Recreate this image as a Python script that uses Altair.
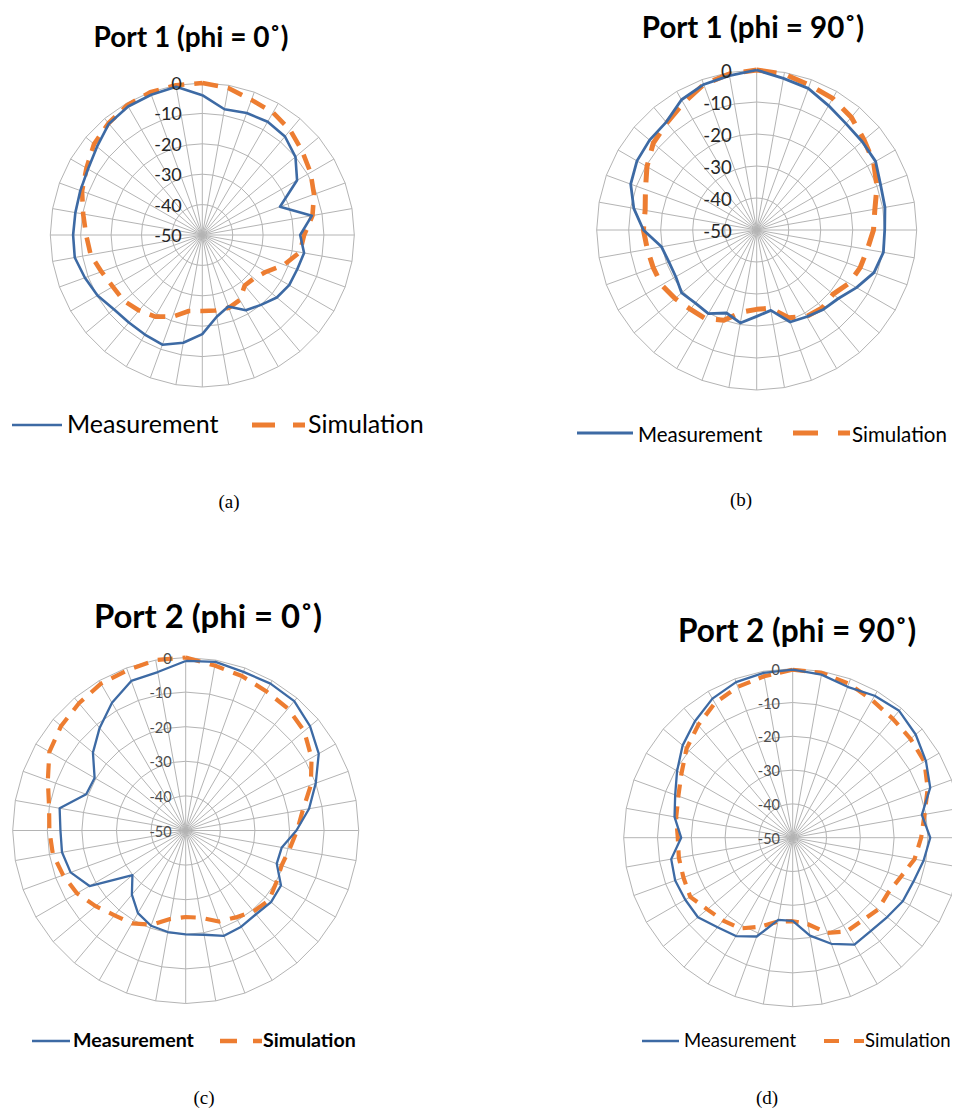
import altair as alt
import pandas as pd

# ---------------- data ----------------
ANGLES = list(range(0, 360, 10))          # degrees, clockwise from top
SERIES = ["Measurement", "Simulation"]
TICK_VALUES = [0, -10, -20, -30, -40, -50]
TICK_LABELS = ["0", "-10", "-20", "-30", "-40", "-50"]
RING_LEVELS = [0, -10, -20, -30, -40]
TITLES = ["Port 1 (phi = 0˚)", "Port 1 (phi = 90˚)", "Port 2 (phi = 0˚)", "Port 2 (phi = 90˚)"]
CAPTIONS = ["(a)", "(b)", "(c)", "(d)"]

meas_a = [-4, -8, -7.3, -7, -7.7, -10, -14, -22.8, -13.4, -17.8, -16, -16.8,
          -17, -18, -20, -21.4, -25, -22.7, -17.4, -14, -11.6, -12.2, -12.4, -12,
          -10.2, -8.9, -7.4, -7.5, -7.6, -7.3, -6.6, -4.8, -2.2, -1.2, -0.9, -0.5]
sim_a = [0, -0.9, -2.7, -3.5, -5, -7.1, -8.9, -10.9, -13.2, -16.5, -17.4, -21.4,
         -25.8, -27.8, -28.3, -25.3, -24.5, -24.8, -25, -24.6, -21.4, -19, -17.6, -16.3,
         -16, -14.7, -12.7, -11.8, -10.2, -7.9, -6, -3.5, -2, -0.7, 0, 0]

meas_b = [0, -1.9, -2.9, -5.1, -6.6, -7, -7.1, -8.8, -9.3, -10, -9.8, -11,
          -14, -16.7, -17.6, -18.7, -19.4, -24.5, -23, -20.5, -22.4, -19.8, -20.2, -19.4,
          -20.8, -20.8, -19.8, -14.6, -11, -8.1, -6.8, -6.3, -6, -3, -1.6, -1]
sim_b = [0, -0.5, -1.8, -2.5, -4, -6.2, -7.8, -10, -12.5, -13.5, -14.9, -15.6,
         -16.7, -18.8, -18.2, -18.8, -20.8, -25.2, -25.2, -24, -20, -18, -17.7, -16.7,
         -15.7, -15.6, -15.3, -14.6, -14.6, -13, -10.4, -7.8, -6.3, -4.2, -1.6, -0.5]

meas_c = [-1, -0.5, -1.2, -1, -1.2, -3.1, -5.6, -10, -13.8, -18, -21.8, -22,
          -18.2, -17.8, -18.4, -17.9, -17.6, -19.4, -20, -20.2, -20.7, -22.4, -25.8, -29.9,
          -17.9, -14.6, -13.7, -13.8, -13, -19.4, -19.6, -15, -11.3, -7.4, -4, -3.5]
sim_c = [0, -1.6, -2.5, -3.5, -4, -5.3, -8, -11.5, -15.6, -17.8, -19.5, -20.5,
         -19.8, -18.6, -19.5, -21, -22, -24.4, -25, -24, -21, -19, -18, -16,
         -13.7, -12.3, -11, -10.6, -9.9, -7.6, -4.5, -3, -2, -1, -0.7, 0]

meas_d = [-0.3, -1, -2.5, -1.5, -1, -2.5, -4.5, -6.7, -11.2, -9.3, -10.7, -12,
          -12.4, -13.5, -14, -13.5, -16.6, -20.6, -25.4, -25.3, -18.9, -16.4, -15.4, -13.4,
          -13.3, -13, -13.5, -17, -14.5, -13, -10.5, -7.5, -5, -2.5, -1, -0.5]
sim_d = [-0.3, -0.5, -1.5, -3, -4, -4.5, -5, -7.5, -10.4, -12, -13.4, -16,
         -17.4, -17, -18, -18, -20, -24, -25.3, -24.8, -22, -19, -18, -17,
         -15, -15.6, -15.8, -16, -15, -14, -12, -9, -6.5, -4, -2.5, -1.5]

PANEL_DATA = {"a": (meas_a, sim_a), "b": (meas_b, sim_b),
              "c": (meas_c, sim_c), "d": (meas_d, sim_d)}

# ---------------- layout / style (page pixels) ----------------
BLUE = "#3D6AA4"
ORANGE = "#ED7D31"
GRID = "#B4B4B4"
FONT = "Lato"

LAYOUT = {
    "a": dict(cx=202.3, cy=235, R=152, tick_dx=20.5, tick_fs=18, tick_col="#262626",
              m_w=2.6, s_w=4.6, s_dash=[16, 10],
              title_x=191, title_y=47, title_fs=28,
              leg_y=425, leg_base=433, leg_m=(12, 62), leg_m_text=67,
              leg_s=(252, 305), leg_s_dash=[23, 18], leg_s_text=308,
              leg_fs=25, leg_bold=False, leg_mw=2.7, leg_sw=4.8,
              cap_x=229, cap_y=508),
    "b": dict(cx=756.7, cy=230, R=160, tick_dx=25, tick_fs=18.5, tick_col="#262626",
              m_w=2.8, s_w=5, s_dash=[20, 12],
              title_x=753, title_y=38, title_fs=29.5,
              leg_y=433, leg_base=441.5, leg_m=(577, 633), leg_m_text=638,
              leg_s=(793, 850), leg_s_dash=[25, 20], leg_s_text=852,
              leg_fs=20.5, leg_bold=False, leg_mw=2.8, leg_sw=5,
              cap_x=741, cap_y=506),
    "c": dict(cx=185.7, cy=830.5, R=173, tick_dx=14, tick_fs=14.5, tick_col="#4D4D4D",
              m_w=2.3, s_w=4.2, s_dash=[15, 10],
              title_x=208, title_y=628, title_fs=32.8,
              leg_y=1041, leg_base=1046.5, leg_m=(32, 70), leg_m_text=73,
              leg_s=(220, 262), leg_s_dash=[17, 16], leg_s_text=263,
              leg_fs=19.6, leg_bold=True, leg_mw=2.3, leg_sw=4.5,
              cap_x=204, cap_y=1104),
    "d": dict(cx=792.7, cy=837.7, R=169, tick_dx=12.7, tick_fs=14.5, tick_col="#4D4D4D",
              m_w=2.3, s_w=4.2, s_dash=[13, 9],
              title_x=797, title_y=642, title_fs=31.6,
              leg_y=1041, leg_base=1046.5, leg_m=(642, 679), leg_m_text=684,
              leg_s=(824, 864), leg_s_dash=[15, 15], leg_s_text=865,
              leg_fs=18.5, leg_bold=False, leg_mw=2.3, leg_sw=4.2,
              cap_x=767, cap_y=1104),
}

W, H = 944, 1101
XS = alt.Scale(domain=[8, 8 + W], nice=False, zero=False)
YS = alt.Scale(domain=[8 + H, 8], nice=False, zero=False)

R_EXPR = "datum.R * (datum.value + 50) / 50"
PX_EXPR = "datum.cx + datum.r * sin(datum.angle * PI / 180)"
PY_EXPR = "datum.cy - datum.r * cos(datum.angle * PI / 180)"


def X(f):
    return alt.X(f, type="quantitative", scale=XS, axis=None)


def Y(f):
    return alt.Y(f, type="quantitative", scale=YS, axis=None)


def panel_layers(key, title, caption):
    L = LAYOUT[key]
    geo = dict(cx=L["cx"], cy=L["cy"], R=L["R"])
    meas, sim = PANEL_DATA[key]
    layers = []

    # ring gridlines (36-gon)
    rings = pd.DataFrame([{"level": lv, "value": lv, "angle": a, **geo}
                          for lv in RING_LEVELS for a in ANGLES + [360]])
    layers.append(
        alt.Chart(rings).mark_line(stroke=GRID, strokeWidth=1)
        .transform_calculate(r=R_EXPR).transform_calculate(px=PX_EXPR, py=PY_EXPR)
        .encode(x=X("px"), y=Y("py"), detail="level:N", order="angle:Q")
    )
    # spokes
    spokes = pd.DataFrame([{"angle": a, "value": 0, **geo} for a in ANGLES])
    layers.append(
        alt.Chart(spokes).mark_rule(stroke=GRID, strokeWidth=1)
        .transform_calculate(r=R_EXPR)
        .transform_calculate(px=PX_EXPR, py=PY_EXPR)
        .encode(x=X("cx"), y=Y("cy"), x2="px:Q", y2="py:Q")
    )
    # series
    for name, vals, color, width, dash in [
        (SERIES[1], sim, ORANGE, L["s_w"], L["s_dash"]),
        (SERIES[0], meas, BLUE, L["m_w"], None),
    ]:
        rows = [{"series": name, "angle": a, "value": v, **geo} for a, v in zip(ANGLES, vals)]
        rows.append({"series": name, "angle": 360, "value": vals[0], **geo})
        mk = dict(stroke=color, strokeWidth=width, strokeJoin="round")
        if dash:
            mk["strokeDash"] = dash
        layers.append(
            alt.Chart(pd.DataFrame(rows)).mark_line(**mk)
            .transform_calculate(r=R_EXPR).transform_calculate(px=PX_EXPR, py=PY_EXPR)
            .encode(x=X("px"), y=Y("py"), order="angle:Q")
        )
    # tick labels
    ticks = pd.DataFrame([{"value": v, "label": t, "angle": 0, **geo}
                          for v, t in zip(TICK_VALUES, TICK_LABELS)])
    layers.append(
        alt.Chart(ticks).mark_text(align="right", baseline="middle", font=FONT,
                                   fontSize=L["tick_fs"], color=L["tick_col"], dy=2)
        .transform_calculate(r=R_EXPR)
        .transform_calculate(px=f"datum.cx - {L['tick_dx']}", py=PY_EXPR)
        .encode(x=X("px"), y=Y("py"), text="label:N")
    )
    # title
    layers.append(
        alt.Chart(pd.DataFrame({"t": [title]})).mark_text(
            align="center", baseline="alphabetic", font=FONT, fontWeight="bold",
            fontSize=L["title_fs"], color="#000000")
        .encode(x=alt.value(L["title_x"] - 8), y=alt.value(L["title_y"] - 8), text="t:N")
    )
    # legend
    lw = "bold" if L["leg_bold"] else "normal"
    leg = pd.DataFrame({"name": SERIES})
    layers.append(
        alt.Chart(leg).transform_filter(alt.datum.name == SERIES[0])
        .mark_rule(stroke=BLUE, strokeWidth=L["leg_mw"])
        .encode(x=alt.value(L["leg_m"][0] - 8), x2=alt.value(L["leg_m"][1] - 8),
                y=alt.value(L["leg_y"] - 8))
    )
    layers.append(
        alt.Chart(leg).transform_filter(alt.datum.name == SERIES[1])
        .mark_rule(stroke=ORANGE, strokeWidth=L["leg_sw"], strokeDash=L["leg_s_dash"])
        .encode(x=alt.value(L["leg_s"][0] - 8), x2=alt.value(L["leg_s"][1] - 8),
                y=alt.value(L["leg_y"] - 8))
    )
    for nm, tx in [(SERIES[0], L["leg_m_text"]), (SERIES[1], L["leg_s_text"])]:
        layers.append(
            alt.Chart(leg).transform_filter(alt.datum.name == nm)
            .mark_text(align="left", baseline="alphabetic", font=FONT, fontWeight=lw,
                       fontSize=L["leg_fs"], color="#000000")
            .encode(x=alt.value(tx - 8), y=alt.value(L["leg_base"] - 8), text="name:N")
        )
    # caption
    layers.append(
        alt.Chart(pd.DataFrame({"t": [caption]})).mark_text(
            align="center", baseline="alphabetic", font="Liberation Serif",
            fontSize=19, color="#000000")
        .encode(x=alt.value(L["cap_x"] - 8), y=alt.value(L["cap_y"] - 8), text="t:N")
    )
    return layers


all_layers = []
for k, t, c in zip(["a", "b", "c", "d"], TITLES, CAPTIONS):
    all_layers += panel_layers(k, t, c)

chart = (
    alt.layer(*all_layers)
    .properties(width=W, height=H, padding=0, autosize="none", background="white")
    .configure_view(stroke=None)
)

chart.save("out.html", embed_options={"renderer": "svg", "actions": False})
